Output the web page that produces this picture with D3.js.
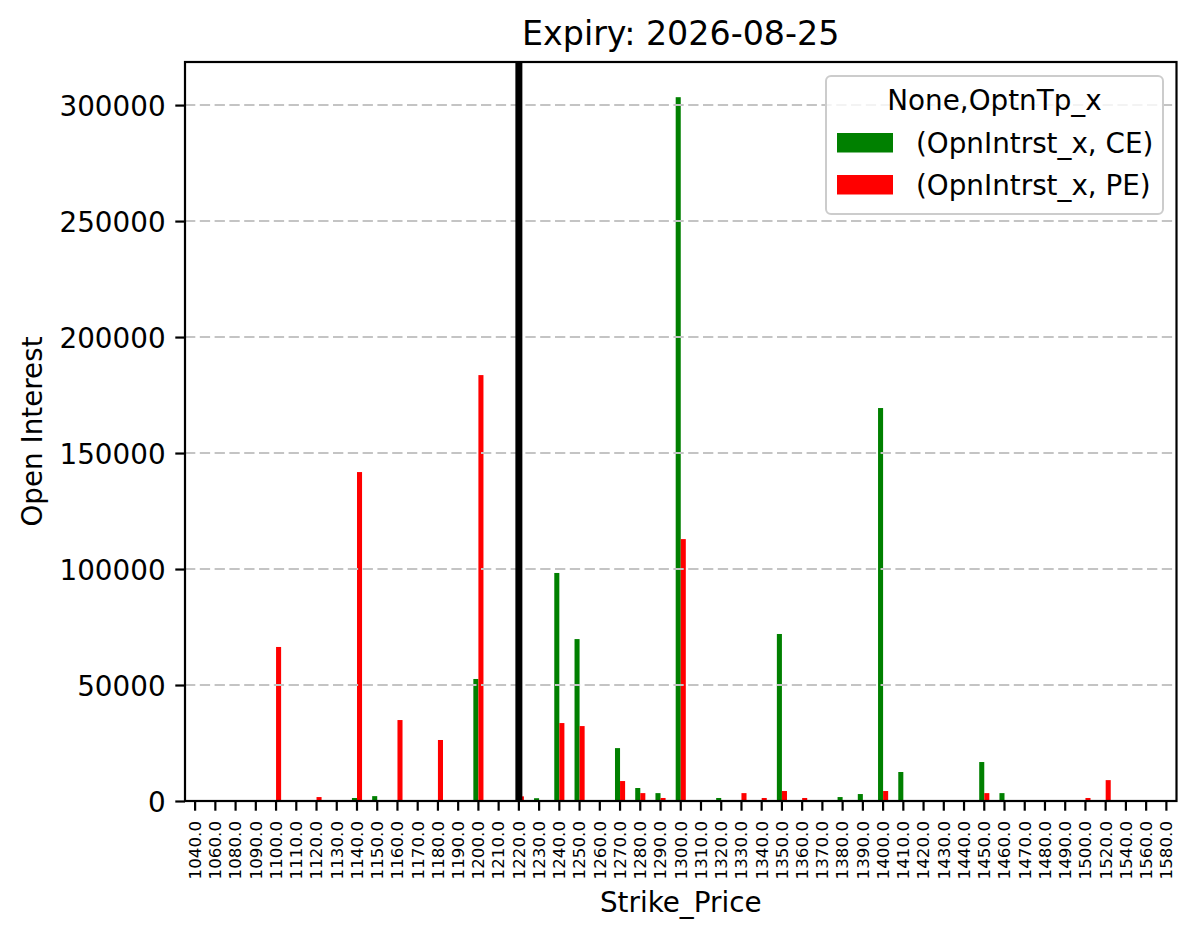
<!DOCTYPE html>
<html>
<head>
<meta charset="utf-8">
<script src="https://cdn.jsdelivr.net/npm/d3@7"></script>
<style>
  body { margin: 0; background: #fff; }
  text { font-family: "DejaVu Sans", sans-serif; }
</style>
</head>
<body>
<script>
// Open interest per strike, call (CE) vs put (PE)
let strikes = [1040,1060,1080,1090,1100,1110,1120,1130,1140,1150,1160,1170,1180,1190,1200,1210,1220,1230,1240,1250,1260,1270,1280,1290,1300,1310,1320,1330,1340,1350,1360,1370,1380,1390,1400,1410,1420,1430,1440,1450,1460,1470,1480,1490,1500,1520,1540,1560,1580];
let ce_oi = [0,0,0,0,0,0,0,0,1300,2100,0,0,0,0,52600,0,0,1200,98300,69800,0,22800,5600,3400,303400,0,1300,0,0,72000,0,0,1700,3000,169400,12500,0,0,0,16800,3400,0,0,0,0,0,0,0,0];
let pe_oi = [0,0,0,0,66400,0,1700,0,141800,0,34900,0,26300,0,183600,0,2000,0,33600,32300,0,8600,3400,1300,112900,0,0,3400,1300,4300,1300,0,0,0,4300,0,0,0,0,3400,0,0,0,0,1300,9000,0,0,0];
let series_names = ["(OpnIntrst_x, CE)", "(OpnIntrst_x, PE)"];
let y_ticks = [0,50000,100000,150000,200000,250000,300000];
let spot_strike = 1220;

let width = 1197;
let height = 939;

let ce_color = "#008000";
let pe_color = "#ff0000";
let grid_color = "#c4c4c4";

let margin = {left: 185, right: 1197 - 1176.5, top: 62, bottom: 939 - 801};

let svg = d3.select("body")
            .append("svg")
            .attr("width", width)
            .attr("height", height);

svg.append("rect").attr("width", width).attr("height", height).attr("fill", "#fff");

let x = d3.scaleBand()
          .domain(strikes.map(d => d.toFixed(1)))
          .range([margin.left, width - margin.right])
          .paddingInner(0).paddingOuter(0);

let ymax = d3.max(ce_oi.concat(pe_oi)) * 1.05;
let y = d3.scaleLinear()
          .domain([0, ymax])
          .range([height - margin.bottom, margin.top]);

let bw = x.bandwidth() * 0.25;
let data = strikes.map((s, i) => ({k: s.toFixed(1), ce: ce_oi[i], pe: pe_oi[i]}));

// bars
let plot = svg.append("g").attr("id", "bars");
plot.selectAll(".ce").data(data).enter().append("rect")
    .attr("class", "ce")
    .attr("x", d => x(d.k) + x.bandwidth() / 2 - bw)
    .attr("y", d => y(d.ce))
    .attr("width", bw)
    .attr("height", d => y(0) - y(d.ce))
    .attr("fill", ce_color);
plot.selectAll(".pe").data(data).enter().append("rect")
    .attr("class", "pe")
    .attr("x", d => x(d.k) + x.bandwidth() / 2)
    .attr("y", d => y(d.pe))
    .attr("width", bw)
    .attr("height", d => y(0) - y(d.pe))
    .attr("fill", pe_color);

// grid (matplotlib draws it above the patches)
svg.append("g").selectAll("line").data(y_ticks).enter().append("line")
    .attr("x1", margin.left).attr("x2", width - margin.right)
    .attr("y1", d => y(d)).attr("y2", d => y(d))
    .attr("stroke", grid_color)
    .attr("stroke-width", 2)
    .attr("stroke-dasharray", "10.3,4.5");

// spot line
let sx = x(spot_strike.toFixed(1)) + x.bandwidth() / 2;
svg.append("line")
    .attr("x1", sx).attr("x2", sx)
    .attr("y1", margin.top).attr("y2", height - margin.bottom)
    .attr("stroke", "#000").attr("stroke-width", 7);

// axes
let yAxis = svg.append("g")
    .attr("transform", "translate(" + margin.left + ",0)")
    .call(d3.axisLeft(y).tickValues(y_ticks).tickFormat(d3.format("d")).tickSizeInner(9.7).tickSizeOuter(0).tickPadding(9.7));
yAxis.select(".domain").remove();
yAxis.selectAll("line").attr("stroke-width", 2.2);
yAxis.selectAll("text").attr("font-size", 27.8).attr("fill", "#000")
     .attr("font-family", "DejaVu Sans").attr("dy", "0.36em");

let xAxis = svg.append("g")
    .attr("transform", "translate(0," + (height - margin.bottom) + ")")
    .call(d3.axisBottom(x).tickSizeInner(9.7).tickSizeOuter(0).tickPadding(0));
xAxis.select(".domain").remove();
xAxis.selectAll("line").attr("stroke-width", 2.2);
xAxis.selectAll("text")
     .attr("font-size", 16.7).attr("fill", "#000")
     .attr("font-family", "DejaVu Sans")
     .attr("text-anchor", "end")
     .attr("transform", "translate(0,20) rotate(-90)")
     .attr("x", 0).attr("y", 0).attr("dy", "0.35em");

// frame
svg.append("rect")
    .attr("x", margin.left).attr("y", margin.top)
    .attr("width", width - margin.right - margin.left)
    .attr("height", height - margin.bottom - margin.top)
    .attr("fill", "none").attr("stroke", "#000").attr("stroke-width", 2.2);

// labels
let cx = (margin.left + width - margin.right) / 2;
svg.append("text").attr("x", cx).attr("y", 45)
    .attr("text-anchor", "middle").attr("font-size", 33.3)
    .text("Expiry: 2026-08-25");
svg.append("text").attr("x", cx).attr("y", 912)
    .attr("text-anchor", "middle").attr("font-size", 27.8)
    .text("Strike_Price");
svg.append("text")
    .attr("transform", "translate(42," + ((margin.top + height - margin.bottom) / 2) + ") rotate(-90)")
    .attr("text-anchor", "middle").attr("font-size", 27.8)
    .text("Open Interest");

// legend
let lg = svg.append("g").attr("transform", "translate(826,76)");
lg.append("rect")
    .attr("width", 337).attr("height", 138).attr("rx", 5)
    .attr("fill", "#fff").attr("fill-opacity", 0.8)
    .attr("stroke", "#cccccc").attr("stroke-width", 2);
lg.append("text").attr("x", 168.5).attr("y", 34)
    .attr("text-anchor", "middle").attr("font-size", 27.8)
    .text("None,OptnTp_x");
let colors = [ce_color, pe_color];
series_names.forEach((name, i) => {
    lg.append("rect").attr("x", 11).attr("y", 57 + i * 42)
      .attr("width", 56).attr("height", 19.5).attr("fill", colors[i]);
    lg.append("text").attr("x", 90).attr("y", 77 + i * 41.5)
      .attr("font-size", 27.8).text(name);
});
</script>
</body>
</html>
